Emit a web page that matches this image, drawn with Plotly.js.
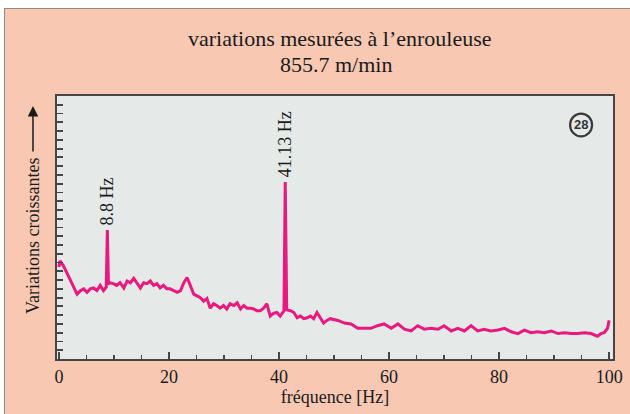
<!DOCTYPE html>
<html>
<head>
<meta charset="utf-8">
<script src="https://cdn.plot.ly/plotly-3.0.1.min.js"></script>
<style>
html,body{margin:0;padding:0;background:#ffffff;width:630px;height:414px;overflow:hidden;}
#frame{position:absolute;left:4px;top:8px;width:626px;height:406px;border-left:1px solid #8a8a8a;border-top:1px solid #8a8a8a;box-sizing:border-box;background:#f8c8b3;}
#chart{position:absolute;left:1px;top:1px;width:625px;height:405px;}
</style>
</head>
<body>
<div id="frame"><div id="chart"></div></div>
<script>
const freqHz = [0, 0.2, 0.85, 1.45, 2.05, 2.7, 3.3, 3.9, 4.5, 5.1, 5.7, 6.3, 6.9, 7.5, 8.1, 8.6, 8.8, 9.0, 9.3, 9.9, 10.5, 11.1, 11.8, 12.4, 13.0, 13.6, 14.2, 14.8, 15.4, 16.0, 16.6, 17.2, 17.8, 18.4, 19.0, 19.6, 20.2, 20.9, 21.5, 22.1, 22.7, 23.3, 23.9, 24.5, 25.1, 25.7, 26.3, 26.9, 27.5, 28.1, 28.7, 29.3, 29.9, 30.5, 31.1, 31.8, 32.4, 33.0, 33.6, 34.2, 34.8, 35.4, 36.0, 36.6, 37.2, 37.8, 38.4, 39.0, 39.6, 40.2, 40.9, 41.13, 41.4, 42.1, 42.7, 43.3, 43.9, 44.5, 45.1, 45.7, 46.3, 46.9, 47.5, 48.1, 48.7, 49.3, 50.7, 51.9, 53.1, 54.3, 55.5, 56.7, 57.9, 59.1, 60.4, 61.6, 62.8, 64.0, 65.2, 66.4, 67.6, 68.9, 70.0, 71.3, 72.5, 73.7, 74.9, 76.1, 77.3, 78.5, 79.8, 81.0, 82.2, 83.4, 84.6, 85.8, 87.0, 88.2, 89.5, 90.7, 91.9, 93.1, 94.3, 95.5, 96.7, 97.9, 98.5, 99.1, 99.7, 100];
const variation = [10.5, 11.2, 10.6, 9.8, 8.9, 8.0, 7.4, 7.8, 8.0, 7.6, 8.0, 8.1, 7.8, 8.4, 7.8, 8.2, 14.7, 8.6, 8.7, 8.6, 8.4, 8.7, 8.1, 8.9, 8.7, 9.2, 8.7, 8.1, 8.7, 8.6, 8.9, 8.4, 8.6, 8.1, 8.4, 8.0, 8.0, 7.8, 7.6, 7.8, 8.7, 9.3, 8.4, 7.4, 7.2, 7.0, 6.6, 6.9, 5.8, 6.3, 6.1, 5.8, 6.1, 5.7, 6.3, 6.1, 6.4, 5.7, 6.1, 5.8, 5.8, 5.7, 5.5, 5.5, 5.8, 6.3, 4.9, 5.2, 5.3, 4.9, 5.5, 20.2, 5.6, 5.5, 5.3, 4.7, 4.9, 4.6, 4.7, 4.9, 4.6, 5.3, 4.7, 4.1, 4.4, 4.6, 4.4, 4.1, 4.0, 3.5, 3.5, 3.5, 3.8, 4.0, 3.5, 4.0, 3.4, 3.2, 3.8, 3.4, 3.5, 3.4, 3.8, 3.2, 3.5, 3.2, 3.8, 3.2, 3.4, 3.2, 3.3, 3.5, 3.1, 2.9, 3.3, 3.0, 3.1, 3.0, 3.2, 2.9, 3.0, 2.9, 2.9, 3.0, 2.9, 2.6, 2.9, 3.0, 3.5, 4.4];
const peakFreqs = [8.8, 41.13];
const peakValues = [14.7, 20.2];
const peakLabels = ["8.8 Hz", "41.13 Hz"];
const xTickVals = [0, 20, 40, 60, 80, 100];
const titleLines = ["variations mesurées à l’enrouleuse", "855.7 m/min"];
const xTitle = "fréquence [Hz]";
const yTitle = "Variations croissantes";
const badgeText = "28";

const serif = "Liberation Serif, Times New Roman, serif";
const axisCol = "#454545";
const textCol = "#1a1a1a";

const trace = {
  x: freqHz, y: variation, type: "scatter", mode: "lines",
  line: {color: "#e8197f", width: 3, shape: "linear"},
  hoverinfo: "skip", showlegend: false
};

const annotations = peakLabels.map((t, i) => ({
  text: t, x: peakFreqs[i], y: peakValues[i], xref: "x", yref: "y",
  showarrow: false, textangle: -90, xanchor: "center", yanchor: "bottom",
  yshift: 3, font: {family: serif, size: 18, color: textCol}
}));
annotations.push({
  text: titleLines[1], xref: "paper", yref: "paper", x: 0.502, y: 1.118,
  showarrow: false, xanchor: "center", yanchor: "middle",
  font: {family: serif, size: 22, color: textCol}
});
annotations.push({
  text: yTitle, xref: "paper", yref: "paper", x: -0.0432, y: 0.468,
  showarrow: false, textangle: -90, xanchor: "center", yanchor: "middle",
  font: {family: serif, size: 18, color: textCol}
});
annotations.push({
  text: "", xref: "paper", yref: "paper", x: -0.0432, y: 0.962,
  showarrow: true, ax: 0, ay: 47, arrowhead: 2, arrowsize: 1.4, arrowwidth: 1.5,
  arrowcolor: textCol
});
annotations.push({
  text: "<b>" + badgeText + "</b>", xref: "x", yref: "y", x: 94.9, y: 26.7,
  showarrow: false, xanchor: "center", yanchor: "middle",
  font: {family: "Liberation Sans, Arial, sans-serif", size: 13, color: "#333333"}
});

const layout = {
  width: 625, height: 405,
  margin: {l: 51, r: 18, t: 86, b: 56, pad: 0},
  paper_bgcolor: "#f8c8b3",
  plot_bgcolor: "#e5eae8",
  title: {
    text: titleLines[0],
    font: {family: serif, size: 22, color: textCol},
    x: 0.534, xanchor: "center", xref: "container",
    y: 0.9296, yanchor: "middle", yref: "container"
  },
  xaxis: {
    range: [-0.35, 100.7], tickvals: xTickVals, ticktext: xTickVals.map(String),
    ticks: "inside", ticklen: 7, tickwidth: 1.8, tickcolor: axisCol,
    minor: {dtick: 5, tick0: 0, ticks: "inside", ticklen: 4, tickwidth: 1.6, tickcolor: axisCol, showgrid: false},
    showgrid: false, zeroline: false, showline: true, mirror: true,
    linecolor: axisCol, linewidth: 2.2,
    tickfont: {family: serif, size: 18, color: textCol},
    title: {text: xTitle, font: {family: serif, size: 18, color: textCol}, standoff: 0},
    fixedrange: true
  },
  yaxis: {
    range: [0, 30], dtick: 1, tick0: 0, ticks: "inside", ticklen: 6, tickwidth: 1.8,
    tickcolor: axisCol, showticklabels: false, showgrid: false, zeroline: false,
    showline: true, mirror: true, linecolor: axisCol, linewidth: 2.2, fixedrange: true
  },
  shapes: [{
    type: "circle", xref: "x", yref: "y", x0: 92.9, x1: 96.9, y0: 25.4, y1: 28.0,
    line: {color: "#3a3a3a", width: 2.2}, fillcolor: "rgba(0,0,0,0)"
  }],
  annotations: annotations,
  showlegend: false
};

Plotly.newPlot("chart", [trace], layout, {staticPlot: true, displayModeBar: false});
</script>
</body>
</html>
